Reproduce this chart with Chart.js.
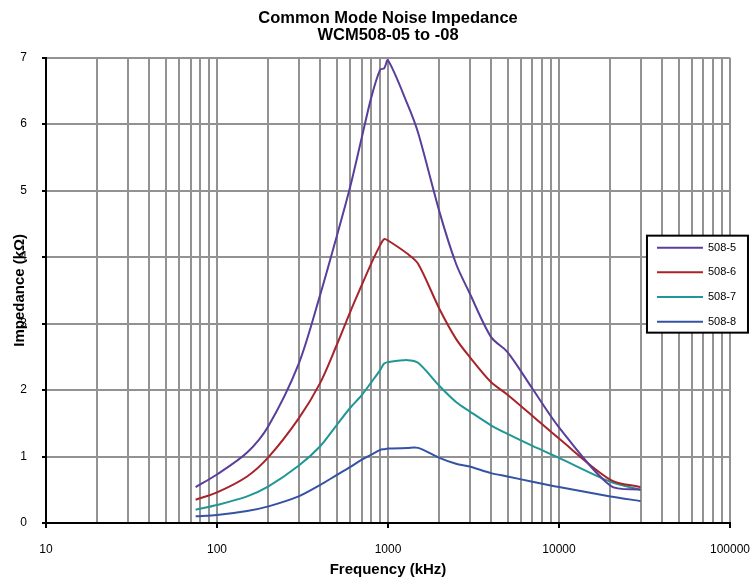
<!DOCTYPE html>
<html>
<head>
<meta charset="utf-8">
<title>Common Mode Noise Impedance</title>
<script src="https://cdn.jsdelivr.net/npm/chart.js@4.4.0/dist/chart.umd.min.js"></script>
<style>
  html, body { margin: 0; padding: 0; background: #fff; }
</style>
</head>
<body>
<canvas id="impChart" width="750" height="580"></canvas>
<script>
// frequency points (kHz) and impedance (kOhm)
const freqKHz = [75, 100, 150, 200, 300, 400, 500, 600, 700, 800, 900, 950, 1000, 1300, 1500, 2000, 2500, 3000, 4000, 5000, 7000, 10000, 20000, 30000];
const z508_5 = [0.54, 0.73, 1.06, 1.46, 2.39, 3.42, 4.30, 5.05, 5.78, 6.41, 6.82, 6.84, 6.96, 6.30, 5.87, 4.68, 3.90, 3.46, 2.80, 2.57, 2.02, 1.44, 0.56, 0.50];
const z508_6 = [0.35, 0.46, 0.70, 0.99, 1.57, 2.10, 2.67, 3.17, 3.57, 3.91, 4.18, 4.27, 4.25, 4.05, 3.90, 3.22, 2.77, 2.50, 2.12, 1.93, 1.61, 1.27, 0.65, 0.54];
const z508_7 = [0.20, 0.27, 0.40, 0.55, 0.86, 1.15, 1.47, 1.73, 1.92, 2.12, 2.30, 2.40, 2.42, 2.45, 2.41, 2.06, 1.82, 1.68, 1.47, 1.34, 1.16, 0.98, 0.62, 0.50];
const z508_8 = [0.10, 0.12, 0.18, 0.25, 0.40, 0.57, 0.72, 0.84, 0.95, 1.03, 1.10, 1.11, 1.12, 1.13, 1.13, 0.98, 0.89, 0.85, 0.75, 0.70, 0.62, 0.54, 0.40, 0.33];

const seriesNames = ['508-5', '508-6', '508-7', '508-8'];
const seriesColors = ['#5a3e9c', '#a8232a', '#1f9794', '#3553a5'];

// x grid: every 1..9 x 10^n between 10 and 100000, labels only on decades
const xGridValues = [];
for (let d = 10; d < 100000; d *= 10) {
    for (let m = 1; m < 10; m++) xGridValues.push(m * d);
}
xGridValues.push(100000);
const yTicks = [0, 1, 2, 3, 4, 5, 6, 7];

const fontFamily = '"Liberation Sans", Arial, sans-serif';

function isDecade(v) {
    const l = Math.log10(v);
    return Math.abs(l - Math.round(l)) < 1e-9;
}

// legend drawn as a framed box over the right edge of the plot
const boxLegend = {
    id: 'boxLegend',
    afterDraw(chart) {
        const ctx = chart.ctx;
        const area = chart.chartArea;
        const x = area.right - 83, y = area.top + 178, w = 101, h = 97;
        ctx.save();
        ctx.fillStyle = '#fff';
        ctx.fillRect(x, y, w, h);
        ctx.strokeStyle = '#000';
        ctx.lineWidth = 2;
        ctx.strokeRect(x, y, w, h);
        ctx.font = '11px ' + fontFamily;
        ctx.textBaseline = 'middle';
        chart.data.datasets.forEach(function(ds, i) {
            const ly = y + 12 + i * 24.7;
            ctx.strokeStyle = ds.borderColor;
            ctx.lineWidth = 2;
            ctx.beginPath();
            ctx.moveTo(x + 10, ly);
            ctx.lineTo(x + 56, ly);
            ctx.stroke();
            ctx.fillStyle = '#000';
            ctx.fillText(ds.label, x + 61, ly);
        });
        ctx.restore();
    }
};

const allSeries = [z508_5, z508_6, z508_7, z508_8];
const datasets = allSeries.map(function(vals, i) {
    return {
        label: seriesNames[i],
        data: freqKHz.map((f, j) => ({ x: f, y: vals[j] })),
        borderColor: seriesColors[i],
        backgroundColor: seriesColors[i],
        borderWidth: 2,
        pointRadius: 0,
        tension: 0.3,
        fill: false
    };
});

const config = {
    type: 'line',
    data: { datasets: datasets },
    options: {
        responsive: false,
        animation: false,
        devicePixelRatio: 1,
        // negative right padding keeps the title centred over the plot
        layout: { padding: { left: 0, right: -26, top: 0, bottom: 0 } },
        plugins: {
            legend: { display: false },
            tooltip: { enabled: false },
            title: {
                display: true,
                text: ['Common Mode Noise Impedance', 'WCM508-05 to -08'],
                color: '#000',
                font: { family: fontFamily, size: 16.5, weight: 'bold', lineHeight: 1.02 },
                padding: { top: 10, bottom: 14 }
            }
        },
        scales: {
            x: {
                type: 'logarithmic',
                min: 10,
                max: 100000,
                afterBuildTicks: function(scale) {
                    scale.ticks = xGridValues.map(v => ({ value: v, major: isDecade(v) }));
                },
                afterFit: function(scale) {
                    scale.height = 57;
                    scale.paddingRight = Math.max(0, scale.paddingRight - 14);
                },
                ticks: {
                    autoSkip: false,
                    maxRotation: 0,
                    padding: 14,
                    color: '#000',
                    font: { family: fontFamily, size: 12 },
                    callback: function(value) { return isDecade(value) ? String(value) : ''; }
                },
                grid: {
                    color: '#929292',
                    lineWidth: 2,
                    tickLength: 5,
                    tickColor: function(c) {
                        return c.tick && isDecade(c.tick.value) ? '#000' : 'rgba(0,0,0,0)';
                    }
                },
                border: { color: '#000', width: 2 },
                title: {
                    display: true,
                    text: 'Frequency (kHz)',
                    color: '#000',
                    font: { family: fontFamily, size: 15, weight: 'bold' },
                    padding: { top: 0, bottom: 1 }
                }
            },
            y: {
                min: 0,
                max: 7,
                afterBuildTicks: function(scale) {
                    scale.ticks = yTicks.map(v => ({ value: v }));
                },
                afterFit: function(scale) { scale.width = 46; },
                ticks: {
                    padding: 15,
                    color: '#000',
                    font: { family: fontFamily, size: 12 }
                },
                grid: {
                    color: '#929292',
                    lineWidth: 2,
                    tickLength: 4,
                    tickColor: '#000'
                },
                border: { color: '#000', width: 2 },
                title: {
                    display: true,
                    text: 'Impedance (k\u03a9)',
                    color: '#000',
                    font: { family: fontFamily, size: 15, weight: 'bold' },
                    padding: { top: 11, bottom: 0 }
                }
            }
        }
    },
    plugins: [boxLegend]
};

const impChart = new Chart(document.getElementById('impChart').getContext('2d'), config);
</script>
</body>
</html>
